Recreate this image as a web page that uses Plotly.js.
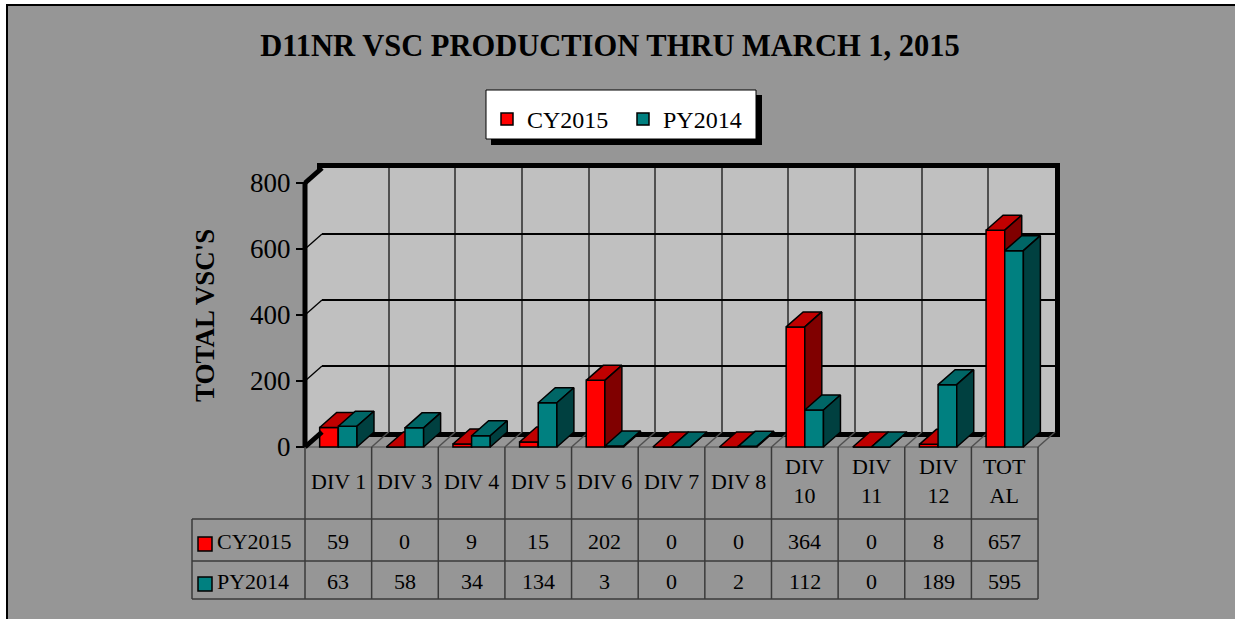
<!DOCTYPE html>
<html>
<head>
<meta charset="utf-8">
<script src="https://cdn.plot.ly/plotly-3.0.1.min.js"></script>
<style>html,body{margin:0;padding:0;background:#fff;}#chart{width:1235px;height:619px;}</style>
</head>
<body>
<div id="chart"></div>
<script>
// ---- data ----
const categories = ["DIV 1","DIV 3","DIV 4","DIV 5","DIV 6","DIV 7","DIV 8","DIV 10","DIV 11","DIV 12","TOTAL"];
const headerLabels = ["DIV 1","DIV 3","DIV 4","DIV 5","DIV 6","DIV 7","DIV 8","DIV<br>10","DIV<br>11","DIV<br>12","TOT<br>AL"];
const cy2015 = [59, 0, 9, 15, 202, 0, 0, 364, 0, 8, 657];
const py2014 = [63, 58, 34, 134, 3, 0, 2, 112, 0, 189, 595];
const seriesNames = ["CY2015", "PY2014"];
const yTicks = [0, 200, 400, 600, 800];

// ---- geometry (pixels) ----
const W = 1235, H = 619;
const FRONT_LEFT = 305, CAT_W = 66.64;
const ZERO_Y = 447, TOP_Y = 183, YMAX = 800;
const DEPTH_X = 17, DEPTH_Y = 15;
const PX_PER_UNIT = (ZERO_Y - TOP_Y) / YMAX;
const dxu = DEPTH_X / CAT_W;          // depth offset in category units
const dyu = DEPTH_Y / PX_PER_UNIT;    // depth offset in value units
const BW = 0.28;                       // bar width
const OFFS = [-0.28, 0.0];
const FONT = "Liberation Serif";
const n = categories.length;
const idx = categories.map((_, i) => i);

const px = x => x / W;
const py = y => 1 - y / H;

// front subplot ranges
const xr = [-0.56, n - 0.5 + 0.36];
const yr = [-10, 855];
const xDom = [px(FRONT_LEFT + (xr[0] + 0.5) * CAT_W), px(FRONT_LEFT + (xr[1] + 0.5) * CAT_W)];
const yDom = [py(ZERO_Y - yr[0] * PX_PER_UNIT), py(ZERO_Y - yr[1] * PX_PER_UNIT)];
// back wall subplot
const wallX = [px(FRONT_LEFT + DEPTH_X), px(FRONT_LEFT + n * CAT_W + DEPTH_X)];
const wallY = [py(ZERO_Y - DEPTH_Y), py(TOP_Y - DEPTH_Y)];

const colors = [
  {front: "#ff0000", top: "#c00000", side: "#800000"},
  {front: "#008080", top: "#006666", side: "#004040"}
];

function topFace(vals, off) {
  const xs = [], ys = [];
  vals.forEach((v, i) => {
    const x0 = i + off, x1 = x0 + BW;
    xs.push(x0, x1, x1 + dxu, x0 + dxu, x0, null);
    ys.push(v, v, v + dyu, v + dyu, v, null);
  });
  return {xs, ys};
}
function sideFace(vals, off) {
  const xs = [], ys = [];
  vals.forEach((v, i) => {
    const x1 = i + off + BW;
    xs.push(x1, x1, x1 + dxu, x1 + dxu, x1, null);
    ys.push(0, v, v + dyu, dyu, 0, null);
  });
  return {xs, ys};
}

const traces = [];
// dummy trace to register the back-wall subplot
traces.push({type: "scatter", x: [0], y: [0], xaxis: "x", yaxis: "y", mode: "markers",
  marker: {opacity: 0}, showlegend: false, hoverinfo: "skip"});

[cy2015, py2014].forEach((vals, s) => {
  const xa = s === 0 ? "x2" : "x3", ya = s === 0 ? "y2" : "y3";
  traces.push({
    type: "bar", name: seriesNames[s], x: idx, y: vals, xaxis: xa, yaxis: ya,
    width: BW, offset: OFFS[s],
    marker: {color: colors[s].front, line: {color: "#000", width: 1.5}},
    hoverinfo: "skip"
  });
  const t = topFace(vals, OFFS[s]);
  traces.push({type: "scatter", mode: "lines", x: t.xs, y: t.ys, xaxis: xa, yaxis: ya,
    fill: "toself", fillcolor: colors[s].top, line: {color: "#000", width: 1.5},
    showlegend: false, hoverinfo: "skip"});
  const sd = sideFace(vals, OFFS[s]);
  traces.push({type: "scatter", mode: "lines", x: sd.xs, y: sd.ys, xaxis: xa, yaxis: ya,
    fill: "toself", fillcolor: colors[s].side, line: {color: "#000", width: 1.5},
    showlegend: false, hoverinfo: "skip"});
});

// ---- shapes ----
const shapes = [];
// chart area background with border (top + left)
shapes.push({type: "rect", xref: "paper", yref: "paper", x0: px(7), x1: 1.02, y0: -0.02, y1: py(5),
  fillcolor: "#969696", line: {color: "#000", width: 2}, layer: "below"});
// legend box with shadow
shapes.push({type: "rect", xref: "paper", yref: "paper", x0: px(491), x1: px(762), y0: py(145), y1: py(95),
  fillcolor: "#000", line: {width: 0}, layer: "below"});
shapes.push({type: "rect", xref: "paper", yref: "paper", x0: px(486), x1: px(756), y0: py(139), y1: py(90),
  fillcolor: "#fff", line: {color: "#000", width: 1}, layer: "below"});
// back wall fill
shapes.push({type: "rect", xref: "x", yref: "y", x0: -0.5, x1: n - 0.5, y0: 0, y1: YMAX,
  fillcolor: "#c0c0c0", line: {width: 0}, layer: "below"});
// side wall
const L = -0.5;
shapes.push({type: "path", xref: "x2", yref: "y2", layer: "below",
  path: `M${L},0 L${L},${YMAX} L${L + dxu},${YMAX + dyu} L${L + dxu},${dyu} Z`,
  fillcolor: "#c0c0c0", line: {width: 0}});
// side wall grid diagonals
[200, 400, 600].forEach(v => {
  shapes.push({type: "line", xref: "x2", yref: "y2", layer: "below", x0: L, y0: v, x1: L + dxu, y1: v + dyu,
    line: {color: "#000", width: 1.3}});
});
// floor grid diagonals
for (let b = 0.5; b <= n - 0.5 + 1e-9; b += 1) {
  shapes.push({type: "line", xref: "x2", yref: "y2", layer: "below", x0: b, y0: 0, x1: b + dxu, y1: dyu,
    line: {color: "#505050", width: 1.5}});
}
shapes.push({type: "line", xref: "x2", yref: "y2", layer: "below", x0: L, y0: 0, x1: n - 0.5, y1: 0,
  line: {color: "#505050", width: 1.2}});
// thick front axis & depth edges
shapes.push({type: "line", xref: "x2", yref: "y2", layer: "above", x0: L, y0: 0, x1: L, y1: YMAX,
  line: {color: "#000", width: 5}});
shapes.push({type: "line", xref: "x2", yref: "y2", layer: "above", x0: L, y0: YMAX, x1: L + dxu, y1: YMAX + dyu,
  line: {color: "#000", width: 5}});
shapes.push({type: "line", xref: "x2", yref: "y2", layer: "above", x0: L, y0: 0, x1: L + dxu, y1: dyu,
  line: {color: "#000", width: 5}});

// ---- data table ----
const TBL_TOP = ZERO_Y, ROW1 = 519, ROW2 = 561, TBL_BOT = 599, TBL_LEFT = 192;
const tcol = "#3a3a3a";
for (let b = -0.5; b <= n - 0.5 + 1e-9; b += 1) {
  shapes.push({type: "line", xref: "x2", yref: "paper", x0: b, x1: b, y0: py(TBL_TOP), y1: py(TBL_BOT),
    line: {color: tcol, width: 1.5}});
}
[ROW1, ROW2, TBL_BOT].forEach(y => {
  shapes.push({type: "line", xref: "x2", yref: "paper", x0: -0.5, x1: n - 0.5, y0: py(y), y1: py(y),
    line: {color: tcol, width: 1.5}});
  shapes.push({type: "line", xref: "paper", yref: "paper", x0: px(TBL_LEFT), x1: px(FRONT_LEFT), y0: py(y), y1: py(y),
    line: {color: tcol, width: 1.5}});
});
shapes.push({type: "line", xref: "paper", yref: "paper", x0: px(TBL_LEFT), x1: px(TBL_LEFT), y0: py(ROW1), y1: py(TBL_BOT),
  line: {color: tcol, width: 1.5}});
// row key squares
[544, 584].forEach((cyPix, s) => {
  shapes.push({type: "rect", xref: "paper", yref: "paper", x0: px(198), x1: px(212), y0: py(cyPix + 7), y1: py(cyPix - 7),
    fillcolor: colors[s].front, line: {color: "#000", width: 1.5}});
});

// ---- annotations ----
const annotations = [];
annotations.push({text: "<b>TOTAL VSC'S</b>", textangle: -90, xref: "paper", yref: "paper",
  x: px(205), y: py(316), xanchor: "center", yanchor: "middle", showarrow: false,
  font: {family: FONT, size: 27, color: "#000"}});
headerLabels.forEach((t, i) => {
  annotations.push({text: t, xref: "x2", yref: "paper", x: i, y: py(481), xanchor: "center", yanchor: "middle",
    showarrow: false, font: {family: FONT, size: 22, color: "#000"}});
});
[cy2015, py2014].forEach((vals, s) => {
  const yy = s === 0 ? 541 : 581;
  vals.forEach((v, i) => {
    annotations.push({text: String(v), xref: "x2", yref: "paper", x: i, y: py(yy), xanchor: "center", yanchor: "middle",
      showarrow: false, font: {family: FONT, size: 22, color: "#000"}});
  });
  annotations.push({text: seriesNames[s], xref: "paper", yref: "paper", x: px(215), xanchor: "left",
    y: py(yy), yanchor: "middle", showarrow: false, font: {family: FONT, size: 22, color: "#000"}});
});

const layout = {
  width: W, height: H,
  margin: {l: 0, r: 0, t: 0, b: 0, pad: 0, autoexpand: false},
  paper_bgcolor: "#ffffff",
  plot_bgcolor: "rgba(0,0,0,0)",
  showlegend: true,
  barmode: "overlay",
  title: {text: "<b>D11NR VSC PRODUCTION THRU MARCH 1, 2015</b>", font: {family: FONT, size: 30.5, color: "#000"},
    x: px(610), xanchor: "center", xref: "paper", y: py(45), yanchor: "middle"},
  legend: {orientation: "h", x: px(487), xanchor: "left", y: py(97), yanchor: "top", entrywidth: 91,
    bgcolor: "rgba(0,0,0,0)", borderwidth: 0, font: {family: FONT, size: 24, color: "#000"}},
  xaxis: {domain: wallX, range: [-0.5, n - 0.5], anchor: "y", tickvals: idx.slice(0, n - 1).map(i => i + 0.5),
    showgrid: true, gridcolor: "#505050", gridwidth: 2, showticklabels: false, ticks: "",
    showline: true, linecolor: "#000", linewidth: 5, mirror: true, zeroline: false, fixedrange: true},
  yaxis: {domain: wallY, range: [0, YMAX], anchor: "x", tickvals: [200, 400, 600],
    showgrid: true, gridcolor: "#000", gridwidth: 1.3, showticklabels: false, ticks: "",
    showline: true, linecolor: "#000", linewidth: 5, mirror: true, zeroline: false, fixedrange: true},
  xaxis2: {domain: xDom, range: xr, anchor: "y2", visible: false, fixedrange: true},
  yaxis2: {domain: yDom, range: yr, anchor: "free", position: px(FRONT_LEFT), tickvals: yTicks,
    ticks: "outside", ticklen: 9, tickwidth: 1.5, tickcolor: "#000", showline: false, showgrid: false,
    zeroline: false, tickfont: {family: FONT, size: 27, color: "#000"}, fixedrange: true},
  xaxis3: {overlaying: "x2", range: xr, anchor: "y3", visible: false, fixedrange: true},
  yaxis3: {overlaying: "y2", range: yr, anchor: "x3", visible: false, fixedrange: true},
  shapes: shapes,
  annotations: annotations
};

Plotly.newPlot("chart", traces, layout, {staticPlot: true, displayModeBar: false});
</script>
</body>
</html>
